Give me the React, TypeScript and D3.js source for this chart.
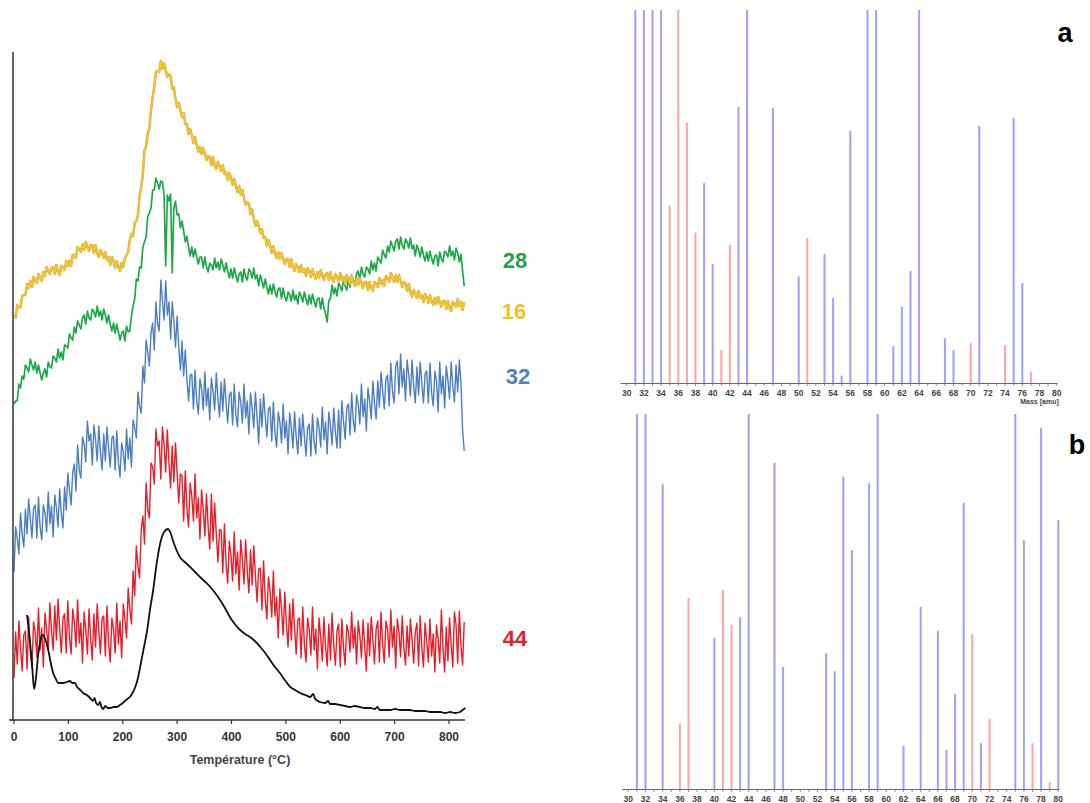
import React from "react";
import * as d3 from "d3";

// ---------- Left panel: TPD-MS signals (arbitrary units) ----------
const TEMPS: number[] = d3.range(0, 829, 3); // °C sampling grid, 277 points
const TEMP_TICKS = [0, 100, 200, 300, 400, 500, 600, 700, 800];

const SIG16 = [405,402,415,412,413,424,425,425,436,432,439,433,443,441,437,446,442,439,448,444,453,449,446,452,
453,446,455,448,445,454,453,450,459,454,459,454,465,465,462,473,471,468,476,470,478,473,469,475,
475,467,475,467,463,470,467,462,468,460,463,455,463,459,452,459,453,449,457,453,462,465,468,480,
486,484,497,499,505,524,533,546,570,573,587,591,610,623,633,648,649,648,659,651,657,650,643,646,
644,631,633,621,613,617,610,603,607,596,596,586,591,585,577,583,575,568,573,566,572,566,560,564,
563,555,563,555,551,558,554,549,555,546,548,540,547,542,535,541,534,528,534,525,530,522,515,518,
516,506,511,501,494,499,494,487,491,482,483,474,480,475,467,474,467,462,468,461,467,461,456,461,
461,453,461,453,449,456,453,448,455,448,451,444,452,449,443,451,445,441,448,442,450,445,440,446,
447,440,448,441,438,446,443,439,447,440,443,436,445,442,436,444,438,434,441,435,442,437,432,438,
438,430,438,432,429,438,436,433,442,436,440,434,444,442,438,447,442,438,445,438,445,439,433,438,
437,429,436,428,423,430,427,422,429,422,425,418,426,423,417,425,419,415,422,416,423,418,413,419,
419,411,419,412,409,418,416,413,421,414,418,410,418];

const SIG28 = [316,319,319,336,332,344,341,355,352,348,361,355,350,358,347,355,347,340,347,351,343,358,353,352,
364,362,358,371,362,368,360,375,374,372,386,382,380,393,387,399,395,391,402,405,396,409,402,400,
411,408,403,414,404,409,400,411,405,397,405,396,389,397,387,396,388,380,387,389,379,394,388,389,
404,414,421,441,439,453,452,473,478,483,504,507,512,530,530,542,537,531,539,538,525,454,525,519,
526,447,512,519,505,506,492,499,489,478,484,473,464,473,463,471,463,456,463,463,452,463,453,448,
457,455,450,462,452,458,450,461,455,448,457,449,442,451,442,452,445,438,446,448,438,451,443,440,
451,448,442,452,441,445,434,445,439,432,441,433,426,435,426,436,429,423,431,432,421,432,423,419,
428,425,419,430,420,425,416,428,424,418,428,421,415,425,416,426,419,413,421,422,411,422,412,406,
398,419,422,435,426,432,424,437,434,429,440,434,430,441,433,445,440,436,446,449,440,453,446,443,
453,451,446,459,450,457,449,463,460,457,470,465,462,474,468,479,474,469,479,481,471,483,475,471,
481,478,472,482,471,475,464,475,470,463,473,465,459,468,459,469,462,456,464,465,454,468,461,458,
469,467,463,474,464,469,460,472,467,458,466,449,434];

const SIG32 = [148,193,182,166,207,186,173,211,186,221,201,182,212,215,182,223,193,180,215,207,188,228,196,214,
183,225,212,193,231,207,192,233,210,247,230,215,248,256,229,275,250,242,283,276,258,299,279,286,
255,295,280,259,294,268,250,286,259,293,272,253,282,284,250,289,258,243,277,268,249,291,261,282,
253,300,292,282,328,313,307,354,337,380,368,354,388,397,370,418,396,389,440,420,400,439,405,418,
381,418,399,373,404,373,350,379,344,370,341,319,345,346,311,350,319,306,341,331,310,348,314,332,
300,342,329,310,347,321,303,338,309,341,318,297,325,328,295,336,306,293,328,318,297,336,302,319,
286,327,312,292,328,303,276,321,293,326,304,283,311,313,279,318,287,273,308,298,277,316,282,299,
266,307,292,272,308,283,266,302,274,306,284,264,292,296,264,306,278,266,302,293,273,313,280,298,
266,308,294,275,312,288,272,310,272,319,299,281,312,316,285,327,299,288,325,316,296,336,303,321,
289,332,319,301,339,316,301,339,313,348,329,311,341,345,314,357,329,317,354,359,326,366,333,351,
319,360,345,324,360,334,317,353,325,358,337,317,346,349,317,357,327,314,349,339,308,358,326,344,
312,354,340,321,358,334,318,355,328,360,337,290,269];

const SIG44 = [42,88,56,99,72,49,85,89,51,103,68,52,98,87,63,112,70,92,53,107,91,70,117,89,
70,114,80,121,92,67,102,106,67,119,83,66,111,98,73,120,77,97,57,108,90,66,111,81,
60,106,73,116,89,66,102,104,64,114,77,58,102,91,67,117,76,99,62,116,101,82,132,110,
96,149,124,174,154,142,190,204,176,237,210,202,257,253,236,291,274,279,241,293,275,248,290,257,
232,274,238,277,247,217,246,244,199,249,212,193,237,224,199,246,202,222,181,230,210,184,226,194,
171,226,179,217,186,158,190,190,147,196,157,137,179,165,139,188,146,168,130,180,161,136,180,149,
127,170,135,174,144,118,151,152,110,159,121,101,143,129,103,149,104,123,82,131,111,85,128,96,
73,116,80,121,92,66,100,102,62,113,76,58,102,90,65,113,70,91,51,102,83,59,103,73,
54,96,60,107,75,55,89,96,53,101,72,55,95,88,68,108,72,93,56,99,85,62,100,74,
49,97,64,103,81,56,91,99,58,108,76,57,99,91,63,110,73,94,52,101,88,63,104,72,
55,94,64,101,80,57,88,97,54,104,72,53,97,79,58,101,64,86,48,95,81,57,110,71,
48,93,59,102,75,53,108,95,57,109,74,55,98];

const BLACK_T = [24,30,33,37,41,44,48,53,58,63,68,72,77,81,90,97,103,107,112,116,122,127,134,140,145,148,151,155,158,161,164,168,172,177,183,189,195,200,206,213,218,223,228,232,238,245,250,256,262,269,276,283,288,292,298,305,314,324,333,342,352,361,370,379,388,397,406,416,425,434,443,453,462,471,480,489,498,508,517,526,536,545,550,554,563,572,578,581,590,600,609,618,627,636,645,655,664,668,673,682,692,701,710,719,728,738,747,756,765,774,784,793,802,811,820,825,830];
const BLACK_V = [105,75,57,31,45,63,78,85,80,70,56,47,41,37,37,38,39,37,37,33,30,27,25,22,19,22,17,15,18,13,11,14,12,12,13,13,15,17,20,23,27,33,42,53,70,90,110,130,155,177,188,191,187,180,171,163,158,153,148,143,138,133,127,120,112,103,96,90,86,83,79,73,67,60,53,47,40,33,30,27,25,23,26,21,18,17,19,16,16,15,14,13,14,13,12,12,11,13,10,10,10,11,10,10,10,9,9,9,8,8,8,7,8,7,8,10,12];

const SERIES_LABELS = ["28", "16", "32", "44"];

// ---------- Right panels: mass spectra (relative intensity, %) ----------
const MASS_TICKS = [30,32,34,36,38,40,42,44,46,48,50,52,54,56,58,60,62,64,66,68,70,72,74,76,78,80];

const A_BLUE_MASS = [31,32,33,34,39,40,43,44,47,50,53,54,55,56,58,59,61,62,63,64,67,68,71,75,76];
const A_BLUE_INT = [100,100,100,100,53.6,31.9,74,100,73.7,28.5,34.6,22.8,2,67.6,100,100,9.9,20.4,30,100,12,8.8,68.9,71,26.8];
const A_RED_MASS = [35,36,37,38,41,42,51,70,74,77];
const A_RED_INT = [47.5,100,69.7,40.3,8.8,37,38.9,10.7,10.2,3];

const B_BLUE_MASS = [31,32,34,40,43,44,47,48,53,54,55,56,58,59,62,64,66,67,68,69,71,75,76,78,80];
const B_BLUE_INT = [100,100,81.3,40.3,45.8,100,87,32.5,36.2,31.4,83.3,63.7,81.5,100,11.5,48.6,42.2,10.4,25.3,76.3,12.2,100,66.4,96.3,71.7];
const B_RED_MASS = [36,37,41,42,70,72,77,79];
const B_RED_INT = [17.3,50.9,53.1,43.7,41.3,18.7,12.2,1.8];

const FONT = "Arial, 'Liberation Sans', Helvetica, sans-serif";

function Spectrum(props: {
  x0: number; baseY: number; topY: number;
  blueM: number[]; blueI: number[]; redM: number[]; redI: number[];
  label: string; labelX: number; labelY: number; showTitle: boolean;
}) {
  const { x0, baseY, topY, blueM, blueI, redM, redI, label, labelX, labelY, showTitle } = props;
  const x = d3.scaleLinear().domain([30, 80]).range([x0, x0 + 430]);
  const y = d3.scaleLinear().domain([0, 100]).range([baseY, topY]);
  const minor = d3.range(30, 81, 1);
  return (
    <g>
      {blueM.map((m, i) => (
        <rect key={"b" + i} x={x(m) - 1} y={y(blueI[i])} width={2} height={baseY - y(blueI[i])} fill="#9f9fff" />
      ))}
      {redM.map((m, i) => (
        <rect key={"r" + i} x={x(m) - 1} y={y(redI[i])} width={2} height={baseY - y(redI[i])} fill="#ffa3a3" />
      ))}
      <line x1={x0 - 6} x2={x(80) + 1} y1={baseY + 0.5} y2={baseY + 0.5} stroke="#666" strokeWidth={1} />
      {minor.map((m) => (
        <line key={"t" + m} x1={x(m)} x2={x(m)} y1={baseY} y2={baseY + 3} stroke="#777" strokeWidth={0.8} />
      ))}
      {MASS_TICKS.map((m) => (
        <text key={"l" + m} x={x(m)} y={baseY + 13} fontSize={8.5} fontWeight="bold" fill="#444" textAnchor="middle" fontFamily={FONT}>
          {m}
        </text>
      ))}
      {showTitle && (
        <text x={x(78)} y={baseY + 21} fontSize={7} fontWeight="bold" fill="#444" textAnchor="middle" fontFamily={FONT}>
          Mass [amu]
        </text>
      )}
      <text x={labelX} y={labelY} fontSize={27} fontWeight="bold" fill="#000" textAnchor="middle" fontFamily={FONT}>
        {label}
      </text>
    </g>
  );
}

export default function App() {
  const x = d3.scaleLinear().domain([0, 800]).range([14, 449]);
  const y = d3.scaleLinear().domain([0, 668]).range([720, 52]);
  const noisy = d3.line<number>().x((_, i) => x(TEMPS[i])).y((d) => y(d));
  const black = d3.line<number>().x((_, i) => x(BLACK_T[i])).y((d) => y(d)).curve(d3.curveMonotoneX);

  const labelPos = [
    { t: SERIES_LABELS[0], x: 515, y: 268, c: "#21a149" },
    { t: SERIES_LABELS[1], x: 514, y: 319, c: "#f4c21b" },
    { t: SERIES_LABELS[2], x: 518, y: 384, c: "#4f81bd" },
    { t: SERIES_LABELS[3], x: 515, y: 646, c: "#e5202a" },
  ];

  return (
    <svg width={1090} height={803} style={{ position: "absolute", left: 0, top: 0, background: "#fff" }}>
      <rect width={1090} height={803} fill="#fff" />
      {/* Left panel */}
      <path d={noisy(SIG32) || ""} fill="none" stroke="#4a7ec0" strokeWidth={1.4} strokeLinejoin="round" />
      <path d={noisy(SIG44) || ""} fill="none" stroke="#e61e2a" strokeWidth={1.4} strokeLinejoin="round" />
      <path d={noisy(SIG28) || ""} fill="none" stroke="#1fa84a" strokeWidth={1.7} strokeLinejoin="round" />
      <path d={noisy(SIG16) || ""} fill="none" stroke="#bba86c" strokeWidth={2.5} strokeLinejoin="round" />
      <path d={noisy(SIG16) || ""} fill="none" stroke="#fcc51a" strokeWidth={1.6} strokeLinejoin="round" />
      <path d={black(BLACK_V) || ""} fill="none" stroke="#111" strokeWidth={1.8} />

      <line x1={13} x2={13} y1={52} y2={721} stroke="#333" strokeWidth={1.5} />
      <line x1={9} x2={465} y1={720} y2={720} stroke="#333" strokeWidth={1.5} />
      {TEMP_TICKS.map((t) => (
        <g key={t}>
          <line x1={x(t)} x2={x(t)} y1={720} y2={724} stroke="#333" strokeWidth={1.2} />
          <text x={x(t)} y={741} fontSize={12} fontWeight="bold" fill="#333" textAnchor="middle" fontFamily={FONT}>
            {t}
          </text>
        </g>
      ))}
      <text x={240} y={764} fontSize={12.5} fontWeight="bold" fill="#444" textAnchor="middle" fontFamily={FONT}>
        Température (°C)
      </text>
      {labelPos.map((l) => (
        <text key={l.t} x={l.x} y={l.y} fontSize={22} fontWeight="bold" fill={l.c} textAnchor="middle" fontFamily={FONT}>
          {l.t}
        </text>
      ))}

      {/* Right panels */}
      <Spectrum x0={626.7} baseY={383} topY={10} blueM={A_BLUE_MASS} blueI={A_BLUE_INT} redM={A_RED_MASS} redI={A_RED_INT}
        label="a" labelX={1065} labelY={42} showTitle={true} />
      <Spectrum x0={628.3} baseY={789} topY={414} blueM={B_BLUE_MASS} blueI={B_BLUE_INT} redM={B_RED_MASS} redI={B_RED_INT}
        label="b" labelX={1077} labelY={454} showTitle={false} />
    </svg>
  );
}
